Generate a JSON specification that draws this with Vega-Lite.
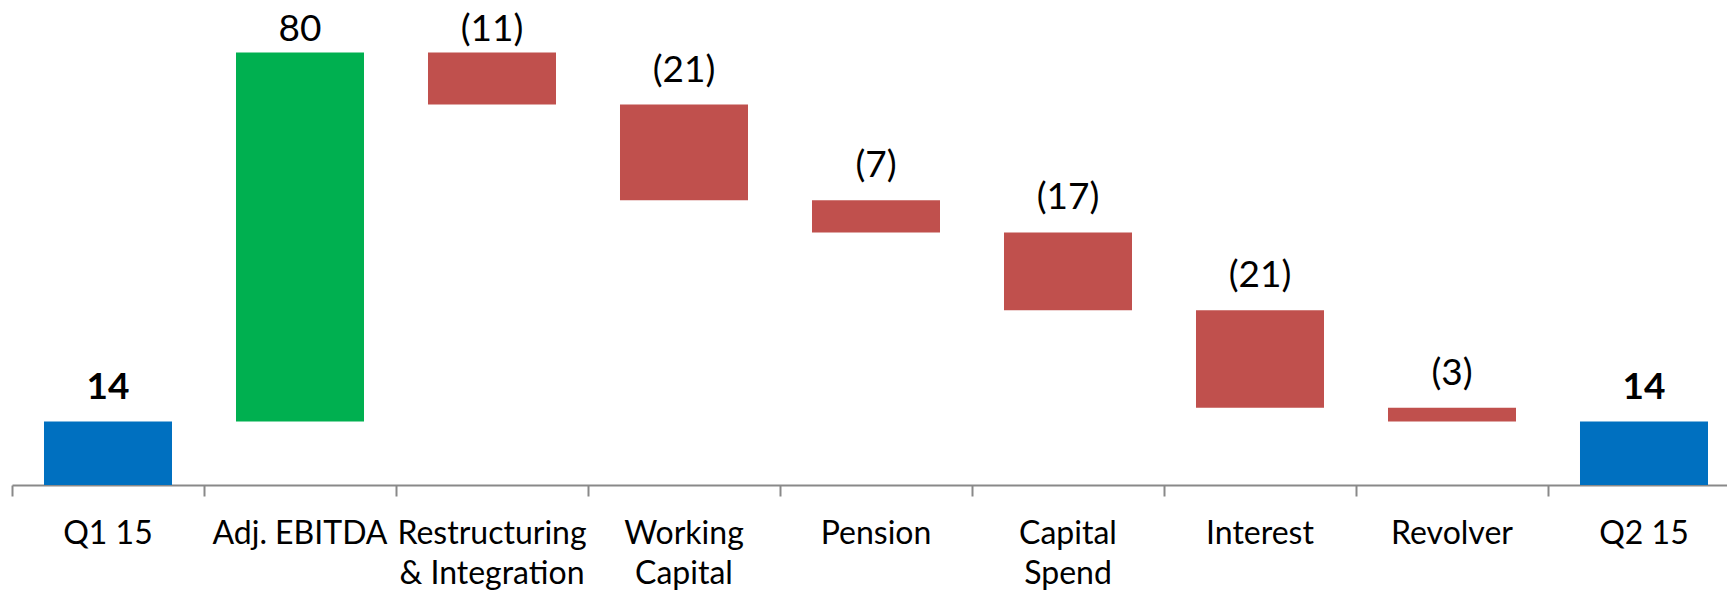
{
  "$schema": "https://vega.github.io/schema/vega-lite/v6.json",
  "autosize": "none",
  "width": 1715,
  "height": 485,
  "padding": {"left": 12, "top": 0, "right": 0, "bottom": 105},
  "background": "white",
  "config": {"view": {"stroke": null}, "font": "Lato"},
  "data": {
    "values": [
      {"category": "Q1 15", "start": 0, "end": 13.8, "label": "14", "kind": "total"},
      {"category": "Adj. EBITDA", "start": 13.8, "end": 94.0, "label": "80", "kind": "increase"},
      {"category": "Restructuring & Integration", "start": 94.0, "end": 82.7, "label": "(11)", "kind": "decrease"},
      {"category": "Working Capital", "start": 82.7, "end": 61.9, "label": "(21)", "kind": "decrease"},
      {"category": "Pension", "start": 61.9, "end": 54.9, "label": "(7)", "kind": "decrease"},
      {"category": "Capital Spend", "start": 54.9, "end": 38.0, "label": "(17)", "kind": "decrease"},
      {"category": "Interest", "start": 38.0, "end": 16.8, "label": "(21)", "kind": "decrease"},
      {"category": "Revolver", "start": 16.8, "end": 13.8, "label": "(3)", "kind": "decrease"},
      {"category": "Q2 15", "start": 0, "end": 13.8, "label": "14", "kind": "total"}
    ]
  },
  "encoding": {
    "x": {
      "field": "category",
      "type": "nominal",
      "sort": null,
      "scale": {"range": [0, 1728], "paddingInner": 0, "paddingOuter": 0},
      "axis": {
        "title": null,
        "labelAngle": 0,
        "bandPosition": 0,
        "domainColor": "#898989",
        "domainWidth": 2,
        "tickColor": "#898989",
        "tickWidth": 2,
        "tickSize": 11,
        "labelFont": "Lato",
        "labelFontSize": 32,
        "labelColor": "#000000",
        "labelPadding": 22,
        "labelLineHeight": 40,
        "labelLimit": 400,
        "grid": false,
        "labelExpr": "datum.value == 'Restructuring & Integration' ? ['Restructuring', '& Integration'] : datum.value == 'Working Capital' ? ['Working', 'Capital'] : datum.value == 'Capital Spend' ? ['Capital', 'Spend'] : datum.value"
      }
    }
  },
  "layer": [
    {
      "mark": {"type": "bar", "width": {"band": 0.6667}},
      "encoding": {
        "y": {"field": "start", "type": "quantitative", "scale": {"domain": [0, 105.43], "nice": false, "zero": true}, "axis": null},
        "y2": {"field": "end"},
        "color": {
          "field": "kind",
          "type": "nominal",
          "scale": {"domain": ["total", "increase", "decrease"], "range": ["#0070C0", "#00B050", "#C0504D"]},
          "legend": null
        }
      }
    },
    {
      "transform": [{"filter": "datum.kind == 'total'"}],
      "mark": {"type": "text", "baseline": "alphabetic", "dy": -23, "font": "Lato", "fontSize": 37, "fontWeight": "bold", "color": "#000000"},
      "encoding": {
        "y": {"field": "end", "type": "quantitative", "scale": {"domain": [0, 91.52], "range": [485, 64], "clamp": true, "nice": false, "zero": true}, "axis": null},
        "text": {"field": "label"}
      }
    },
    {
      "transform": [{"filter": "datum.kind == 'increase'"}],
      "mark": {"type": "text", "baseline": "alphabetic", "dy": -23, "font": "Lato", "fontSize": 37, "color": "#000000"},
      "encoding": {
        "y": {"field": "end", "type": "quantitative", "scale": {"domain": [0, 91.52], "range": [485, 64], "clamp": true, "nice": false, "zero": true}, "axis": null},
        "text": {"field": "label"}
      }
    },
    {
      "transform": [{"filter": "datum.kind == 'decrease'"}],
      "mark": {"type": "text", "baseline": "alphabetic", "dy": -23, "font": "Lato", "fontSize": 37, "color": "#000000"},
      "encoding": {
        "y": {"field": "start", "type": "quantitative", "scale": {"domain": [0, 91.52], "range": [485, 64], "clamp": true, "nice": false, "zero": true}, "axis": null},
        "text": {"field": "label"}
      }
    }
  ],
  "resolve": {"scale": {"y": "independent"}}
}
